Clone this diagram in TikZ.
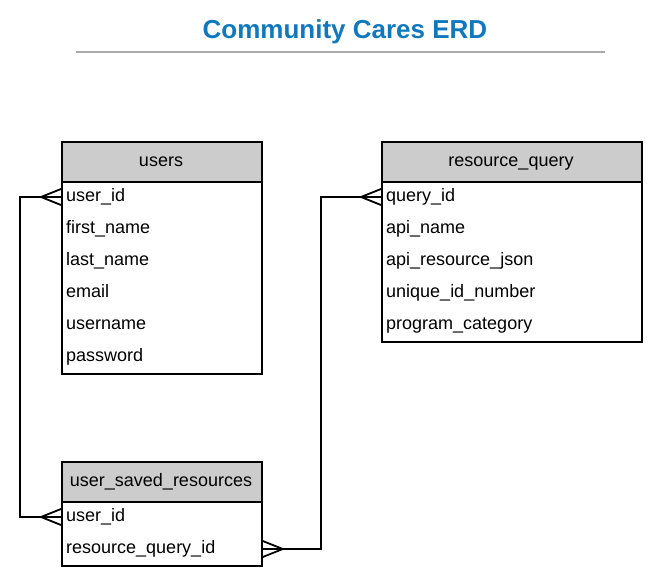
\documentclass[tikz,border=0pt]{standalone}
\usepackage{fontspec}
\setmainfont{Liberation Sans}
\definecolor{titleblue}{HTML}{1079BE}
\definecolor{hdrgray}{HTML}{CCCCCC}
\definecolor{rulegray}{HTML}{AAAAAA}
\begin{document}
\begin{tikzpicture}[x=1pt,y=-1pt,
  tbl/.style={draw=black,line width=1.8pt,rectangle,inner sep=0pt,anchor=north west},
  hdr/.style={tbl,fill=hdrgray,minimum height=40pt},
  hdrtext/.style={inner sep=0pt,text height=13pt,text depth=4pt,font=\fontsize{18}{20}\selectfont},
  body/.style={tbl,fill=white},
  row/.style={anchor=west,inner sep=0pt,text height=13pt,text depth=4pt,font=\fontsize{18}{20}\selectfont},
  conn/.style={line width=1.8pt,line join=miter}]
\useasboundingbox (0,0) rectangle (658,577);
% title
\node[font=\fontsize{26}{30}\selectfont\bfseries,text=titleblue,inner sep=0pt] (title) at (345,32) {Community Cares ERD};
\draw[rulegray,line width=1.8pt] (76,52) -- (605,52);
% users
\node[hdr,minimum width=200pt] (uh) at (61,141) {};
\node[hdrtext] (uhl) at (161,162) {users};
\node[body,minimum width=200pt,minimum height=192pt] (ub) at (61,181) {};
\node[row] (u1) at (66,197) {user\_id};
\node[row] (u2) at (66,229) {first\_name};
\node[row] (u3) at (66,261) {last\_name};
\node[row] (u4) at (66,293) {email};
\node[row] (u5) at (66,325) {username};
\node[row] (u6) at (66,357) {password};
% resource_query
\node[hdr,minimum width=260pt] (rh) at (381,141) {};
\node[hdrtext] (rhl) at (511,162) {resource\_query};
\node[body,minimum width=260pt,minimum height=160pt] (rb) at (381,181) {};
\node[row] (r1) at (386,197) {query\_id};
\node[row] (r2) at (386,229) {api\_name};
\node[row] (r3) at (386,261) {api\_resource\_json};
\node[row] (r4) at (386,293) {unique\_id\_number};
\node[row] (r5) at (386,325) {program\_category};
% user_saved_resources
\node[hdr,minimum width=200pt] (sh) at (61,461) {};
\node[hdrtext] (shl) at (161,482) {user\_saved\_resources};
\node[body,minimum width=200pt,minimum height=64pt] (sb) at (61,501) {};
\node[row] (s1) at (66,517) {user\_id};
\node[row] (s2) at (66,549) {resource\_query\_id};
% coordinates on box edges
\coordinate (pU) at (ub.west |- u1);
\coordinate (pS1) at (sb.west |- s1);
\coordinate (pS2) at (sb.east |- s2);
\coordinate (pR) at (rb.west |- r1);
\coordinate (leftx) at (20,0);
\coordinate (midx) at (321,0);
% connector users.user_id -- saved.user_id
\draw[conn] (pU) -- (leftx |- pU) -- (leftx |- pS1) -- (pS1);
\draw[conn] ([xshift=-20pt]pU) -- ([yshift=-8pt]pU) ([xshift=-20pt]pU) -- ([yshift=8pt]pU);
\draw[conn] ([xshift=-20pt]pS1) -- ([yshift=-8pt]pS1) ([xshift=-20pt]pS1) -- ([yshift=8pt]pS1);
% connector saved.resource_query_id -- resource_query.query_id
\draw[conn] (pS2) -- (midx |- pS2) -- (midx |- pR) -- (pR);
\draw[conn] ([xshift=20pt]pS2) -- ([yshift=-8pt]pS2) ([xshift=20pt]pS2) -- ([yshift=8pt]pS2);
\draw[conn] ([xshift=-20pt]pR) -- ([yshift=-8pt]pR) ([xshift=-20pt]pR) -- ([yshift=8pt]pR);
\end{tikzpicture}
\end{document}
